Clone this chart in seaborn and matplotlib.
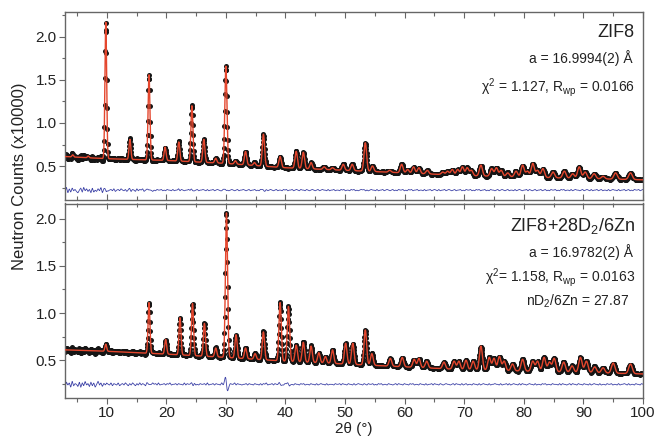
import numpy as np
import pandas as pd
import matplotlib
matplotlib.use("Agg")
import matplotlib.pyplot as plt
from matplotlib.ticker import MultipleLocator
import seaborn as sns

# --- data (2theta in degrees, counts in units of 10000) ---
bg_knots = [3, 10, 20, 30, 40, 50, 60, 70, 80, 90, 100]

# ZIF8
bg_zif8 = [0.61, 0.585, 0.565, 0.53, 0.48, 0.45, 0.42, 0.39, 0.372, 0.355, 0.34]
peaks_zif8 = [4.3, 6.9, 9.85, 13.9, 17.1, 19.8, 22.1, 24.3, 26.3, 28.3, 30.0, 31.6,
              33.3, 34.8, 36.3, 39.1, 41.8, 43.0, 44.3, 46.5, 47.9, 49.7, 51.2, 53.4,
              54.6, 57.5, 59.5, 60.5, 61.5, 62.4, 63.8, 66.4, 67.2, 68.0, 68.9, 69.7,
              70.5, 71.2, 72.8, 74.6, 75.4, 76.2, 77.3, 78.7, 79.8, 80.6, 81.5, 82.3,
              83.2, 84.9, 86.8, 88.2, 89.3, 90.3, 91.8, 93.3, 95.4, 97.9]
tops_zif8 = [0.63, 0.615, 2.17, 0.81, 1.56, 0.72, 0.78, 1.20, 0.81, 0.59, 1.66, 0.56,
             0.67, 0.54, 0.87, 0.61, 0.67, 0.66, 0.54, 0.49, 0.48, 0.52, 0.52, 0.77,
             0.50, 0.45, 0.52, 0.46, 0.49, 0.48, 0.45, 0.43, 0.44, 0.46, 0.46, 0.49,
             0.48, 0.45, 0.51, 0.47, 0.48, 0.45, 0.42, 0.44, 0.51, 0.44, 0.53, 0.45,
             0.47, 0.43, 0.44, 0.41, 0.49, 0.43, 0.41, 0.38, 0.42, 0.42]
wiggle_pos_zif8 = [9.85, 13.9, 17.1, 24.3, 30.0, 36.3, 53.4]
wiggle_amp_zif8 = [0.035, 0.008, 0.012, 0.008, 0.010, 0.008, 0.006]
# residual noise, one digit per 0.25 deg (digit - 4, in units of 0.008)
noise_zif8 = ("2806173520471836250714263805173"
              "4536245364352463542635462453642"
              "4354453435443534463543445354345"
              "3445435344534543354453454345344"
              "5434534453435443534543453443545"
              "3445345435443543454345345443534"
              "4534435453443545343454435345443"
              "5344534543453435445343545344534"
              "4353445345435344534543453445343"
              "5445343545344534354434534543453"
              "4435345434453543453445345343544"
              "5343545344353454434534543534453"
              "4534435345443534453453435445345")

# ZIF8 + 28 D2 / 6Zn
bg_d2 = [0.61, 0.595, 0.565, 0.53, 0.49, 0.46, 0.43, 0.40, 0.385, 0.37, 0.355]
peaks_d2 = [9.85, 17.1, 19.9, 22.3, 24.4, 26.4, 28.3, 30.1, 31.7, 33.3, 34.9, 36.3,
            39.1, 40.5, 41.8, 43.0, 44.3, 45.6, 46.7, 47.9, 50.1, 51.3, 53.4, 54.5,
            57.6, 59.6, 61.6, 62.4, 63.7, 66.6, 68.3, 69.1, 70.3, 71.5, 72.8, 74.2,
            75.0, 75.9, 76.7, 78.1, 79.8, 81.5, 82.3, 83.4, 84.3, 85.1, 86.7, 88.1,
            89.5, 90.5, 91.9, 93.3, 95.0, 97.9]
tops_d2 = [0.67, 1.11, 0.72, 0.95, 1.10, 0.89, 0.63, 2.06, 0.77, 0.63, 0.57, 0.80,
           1.11, 1.07, 0.66, 0.69, 0.65, 0.58, 0.54, 0.61, 0.68, 0.68, 0.82, 0.57,
           0.52, 0.53, 0.51, 0.52, 0.49, 0.48, 0.49, 0.49, 0.50, 0.49, 0.65, 0.53,
           0.52, 0.54, 0.49, 0.46, 0.51, 0.49, 0.49, 0.53, 0.48, 0.52, 0.48, 0.44,
           0.53, 0.49, 0.43, 0.42, 0.47, 0.46]
wiggle_pos_d2 = [9.85, 17.1, 24.4, 30.1, 39.1, 40.5]
wiggle_amp_d2 = [0.010, 0.010, 0.010, 0.075, 0.012, 0.010]
noise_d2 = ("1736082541706283517260483615274"
            "3625436245364253642536354263546"
            "4536344535463445354436354453634"
            "3544536344535443634453544635443"
            "4453544354435354634453543544354"
            "5344354435453443544353454435344"
            "4354453544354435345443543544534"
            "3545344354434535443544354534435"
            "4435344535443543454434535443534"
            "5344354435345443534454435344535"
            "3454435354434544353443545344354"
            "4435354434535443544354435345443"
            "5344354453443534454353443544354")

panels = [
    dict(bg=bg_zif8, pos=peaks_zif8, tops=tops_zif8, wpos=wiggle_pos_zif8,
         wamp=wiggle_amp_zif8, noise=noise_zif8, offset=0.22, ylim=(0.105, 2.29)),
    dict(bg=bg_d2, pos=peaks_d2, tops=tops_d2, wpos=wiggle_pos_d2,
         wamp=wiggle_amp_d2, noise=noise_d2, offset=0.245, ylim=(0.10, 2.16)),
]

step = 0.05
tt = np.arange(3.0, 100.0 + step, step)


def profile(p):
    bg = np.interp(tt, bg_knots, p["bg"])
    calc = bg.copy()
    for x0, top in zip(p["pos"], p["tops"]):
        sig = (0.30 + 0.004 * x0) / 2.355
        amp = top - np.interp(x0, bg_knots, p["bg"])
        calc += amp * np.exp(-0.5 * ((tt - x0) / sig) ** 2)
    noise = np.array([int(c) - 4 for c in p["noise"]]) * 0.008
    diff = np.interp(tt, np.linspace(3, 100, len(noise)), noise)
    for x0, a in zip(p["wpos"], p["wamp"]):
        sig = (0.30 + 0.004 * x0) / 2.355
        u = (tt - x0) / sig
        diff += -a * u * np.exp(0.5 - 0.5 * u ** 2)
    return calc, diff


sns.set_theme(style="ticks")
plt.rcParams["font.family"] = ["Liberation Sans", "DejaVu Sans"]
plt.rcParams["mathtext.fontset"] = "custom"
plt.rcParams["mathtext.rm"] = "Liberation Sans"
plt.rcParams["mathtext.it"] = "Liberation Sans:italic"

fig = plt.figure(figsize=(6.55, 4.42), dpi=100)
W, H = 655, 442
ax1 = fig.add_axes([65 / W, 1 - 200 / H, 578 / W, 188 / H])
ax2 = fig.add_axes([65 / W, 1 - 398 / H, 578 / W, 194.5 / H])

frame = "#666666"
for ax, p in zip([ax1, ax2], panels):
    calc, diff = profile(p)
    # observed = calculated + residual, residual drawn shifted below
    df = pd.DataFrame({"tt": tt, "obs": calc + diff, "calc": calc,
                       "diff": diff + p["offset"]})
    sns.scatterplot(data=df, x="tt", y="obs", ax=ax, color="#151515", s=13,
                    linewidth=0, legend=False, zorder=2)
    sns.lineplot(data=df, x="tt", y="calc", ax=ax, color="#e4462d", lw=1.0,
                 estimator=None, zorder=3)
    sns.lineplot(data=df, x="tt", y="diff", ax=ax, color="#3f44a8", lw=0.6,
                 estimator=None, zorder=2)
    ax.set_xlim(3, 100)
    ax.set_ylim(*p["ylim"])
    ax.set_xlabel("")
    ax.set_ylabel("")
    ax.xaxis.set_major_locator(MultipleLocator(10))
    ax.xaxis.set_minor_locator(MultipleLocator(5))
    ax.yaxis.set_major_locator(MultipleLocator(0.5))
    ax.yaxis.set_minor_locator(MultipleLocator(0.25))
    ax.tick_params(axis="y", which="both", direction="out", left=True, right=False,
                   colors=frame, labelcolor="#222222", labelsize=11, width=0.8, pad=2)
    ax.tick_params(axis="y", which="major", length=4)
    ax.tick_params(axis="y", which="minor", length=2.5)
    for s in ax.spines.values():
        s.set_color(frame)
        s.set_linewidth(1.0)

ax1.tick_params(axis="x", which="both", direction="in", top=True, bottom=True,
                labelbottom=False, colors=frame, width=0.8)
ax1.tick_params(axis="x", which="major", length=4)
ax1.tick_params(axis="x", which="minor", length=3)

ax2.tick_params(axis="x", which="both", direction="out", top=False, bottom=True,
                colors=frame, labelcolor="#222222", labelsize=11, width=0.8, pad=2)
ax2.tick_params(axis="x", which="major", length=4)
ax2.tick_params(axis="x", which="minor", length=3)
top2 = ax2.secondary_xaxis("top")
top2.xaxis.set_major_locator(MultipleLocator(10))
top2.xaxis.set_minor_locator(MultipleLocator(5))
top2.tick_params(axis="x", which="both", direction="in", labeltop=False,
                 colors=frame, width=0.8)
top2.tick_params(axis="x", which="major", length=4)
top2.tick_params(axis="x", which="minor", length=3)
top2.spines["top"].set_visible(False)

ax2.set_xlabel("2θ (°)", fontsize=11, color="#222222", labelpad=1)
fig.text(20 / W, 1 - 176 / H, "Neutron Counts (x10000)", rotation=90,
         ha="center", va="center", fontsize=12, color="#222222")

txt = dict(ha="right", va="baseline", color="#222222")
fig.text(635 / W, 1 - 37 / H, "ZIF8", fontsize=13, **txt)
fig.text(633 / W, 1 - 63 / H, "a = 16.9994(2) Å", fontsize=10, **txt)
fig.text(635 / W, 1 - 91.5 / H, r"χ$^2$ = 1.127, R$_\mathrm{wp}$ = 0.0166", fontsize=10, **txt)
fig.text(635 / W, 1 - 231 / H, r"ZIF8+28D$_2$/6Zn", fontsize=13, **txt)
fig.text(633 / W, 1 - 257 / H, "a = 16.9782(2) Å", fontsize=10, **txt)
fig.text(635 / W, 1 - 281.5 / H, r"χ$^2$= 1.158, R$_\mathrm{wp}$ = 0.0163", fontsize=10, **txt)
fig.text(629 / W, 1 - 306 / H, r"nD$_2$/6Zn = 27.87", fontsize=10, **txt)

fig.savefig("out.png", dpi=100)
